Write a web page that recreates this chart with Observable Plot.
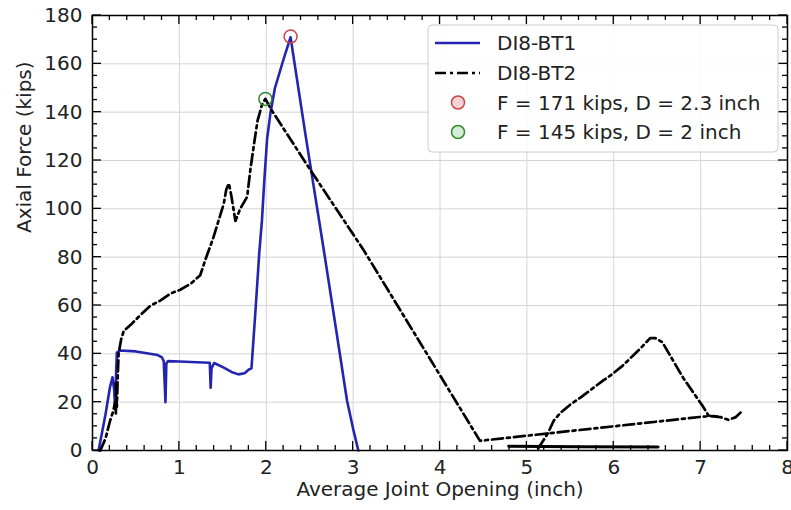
<!DOCTYPE html>
<html><head><meta charset="utf-8">
<script src="https://cdn.jsdelivr.net/npm/d3@7"></script>
<script src="https://cdn.jsdelivr.net/npm/@observablehq/plot@0.6"></script>
<style>
body{margin:0;background:#fff;}
#chart{position:relative;width:791px;height:510px;}
</style>
</head><body><div id="chart"></div>
<script>
// ---- data ----
const seriesNames = ["DI8-BT1", "DI8-BT2"];
const bt1X = [0.07,0.15,0.2,0.23,0.25,0.26,0.27,0.28,0.32,0.5,0.75,0.8,0.82,0.84,0.85,0.87,1.0,1.2,1.35,1.36,1.37,1.4,1.5,1.6,1.68,1.75,1.8,1.83,1.88,1.92,1.95,1.98,2.01,2.05,2.1,2.2,2.28,2.45,2.66,2.8,2.93,3.0,3.06];
const bt1Y = [0,15,26,30.3,25,17.4,30,40.5,41.4,41,39.5,38.5,37,20,36,37,36.8,36.5,36.3,26,34,36.2,34.5,32.5,31.5,32,33.5,34,60,82,95,113,129,140,150,162,171,131,83.5,51,20.6,9,0];
const bt2X = [0.09,0.15,0.2,0.24,0.26,0.27,0.27,0.28,0.29,0.3,0.33,0.36,0.44,0.55,0.67,0.78,0.9,1.01,1.13,1.24,1.3,1.39,1.45,1.51,1.54,1.57,1.6,1.645,1.7,1.78,1.82,1.86,1.9,1.95,1.99,2.05,2.5,3.12,4.46,7.1,7.23,7.32,7.4,7.46, null,
              5.13,5.24,5.31,5.39,5.5,5.62,5.88,5.96,6.1,6.3,6.42,6.48,6.56,6.8,7.02,7.09,7.2];
const bt2Y = [0,5,12,16.5,20,15,28,18,30,40,46,49.5,52,56,60,62,65,66.5,69,72.5,79,88,95,102,108,110.5,105,95,100,105,117,127,136.5,143,145.5,141.5,116.5,83,4,14.3,13.8,12.7,13.7,15.7, null,
              0.8,7,12.4,15.7,19,22,29,31,35,42,46.5,46.5,44.8,30,18.6,14.5,14];
const bt2ResidualX = [4.79, 5.6, 6.51];
const bt2ResidualY = [1.8, 1.6, 1.5];
const peakLabels = ["F = 171 kips, D = 2.3 inch", "F = 145 kips, D = 2 inch"];
const peakX = [2.28, 1.99];
const peakY = [171.3, 145.5];
const xTicks = [0,1,2,3,4,5,6,7,8];
const yTicks = [0,20,40,60,80,100,120,140,160,180];

// ---- build tables ----
const bt1 = bt1X.map((x,i)=>({x, y: bt1Y[i]}));
const bt2 = bt2X.map((x,i)=>({x, y: bt2Y[i]}));
const bt2Res = bt2ResidualX.map((x,i)=>({x, y: bt2ResidualY[i]}));
const peaks = peakX.map((x,i)=>({x, y: peakY[i], label: peakLabels[i]}));

const W=791, H=510, mL=92, mR=4, mT=15, mB=60;
const xDom=[0,8], yDom=[0,180];
const majLen=9, minLen=5;
const xMinor = d3.range(0, 8.0001, 0.2).filter(v => Math.abs(v - Math.round(v)) > 1e-6);
const yMinor = d3.range(0, 180.001, 5).filter(v => v % 20 !== 0);

const blue = "#2424b0";
const red = "#cc4444";
const green = "#2e8b2e";
const font = "DejaVu Sans, sans-serif";
const fs = 20;
const dash = "11,4,3,4";

const svg = Plot.plot({
  width: W, height: H,
  marginLeft: mL, marginRight: mR, marginTop: mT, marginBottom: mB,
  style: {fontSize: fs + "px", fontFamily: font, color: "#222", background: "white"},
  x: {domain: xDom},
  y: {domain: yDom},
  marks: [
    Plot.gridX(xTicks, {stroke: "#d4d4d4", strokeOpacity: 1, strokeWidth: 1}),
    Plot.gridY(yTicks, {stroke: "#d4d4d4", strokeOpacity: 1, strokeWidth: 1}),
    Plot.axisX({ticks: xTicks, tickSize: 0, tickPadding: 9, tickFormat: d=>String(d), label: null, fontSize: fs}),
    Plot.axisY({ticks: yTicks, tickSize: 0, tickPadding: 10, tickFormat: d=>String(d), label: null, fontSize: fs}),
    Plot.line(bt1, {x: "x", y: "y", stroke: blue, strokeWidth: 2.6, strokeLinejoin: "round"}),
    Plot.line(bt2, {x: "x", y: "y", stroke: "black", strokeWidth: 2.7, strokeDasharray: dash}),
    Plot.line(bt2Res, {x: "x", y: "y", stroke: "black", strokeWidth: 3}),
    Plot.dot(peaks, {x: "x", y: "y", r: 6.5, stroke: (d,i)=> i===0 ? red : green, strokeWidth: 1.5, fill: "none"}),
    Plot.frame({stroke: "black", strokeWidth: 1.5}),
    Plot.text(["Average Joint Opening (inch)"], {frameAnchor: "bottom", dy: 45, fontSize: fs, fill: "#222"}),
    Plot.text(["Axial Force (kips)"], {frameAnchor: "left", rotate: -90, dx: -68, fontSize: fs, fill: "#222"})
  ]
});
document.getElementById("chart").appendChild(svg);

// ---- inward ticks on all four sides, placed with the plot's own scales ----
const sx = svg.scale("x"), sy = svg.scale("y");
const s = d3.select(svg);
const tg = s.append("g").attr("stroke", "black").attr("stroke-width", 1.3);
const x0 = sx.apply(xDom[0]), x1 = sx.apply(xDom[1]);
const y0 = sy.apply(yDom[0]), y1 = sy.apply(yDom[1]);
for (const [vals, len] of [[xTicks, majLen], [xMinor, minLen]]) {
  for (const v of vals) {
    const px = sx.apply(v);
    tg.append("line").attr("x1", px).attr("x2", px).attr("y1", y0).attr("y2", y0 - len);
    tg.append("line").attr("x1", px).attr("x2", px).attr("y1", y1).attr("y2", y1 + len);
  }
}
for (const [vals, len] of [[yTicks, majLen], [yMinor, minLen]]) {
  for (const v of vals) {
    const py = sy.apply(v);
    tg.append("line").attr("y1", py).attr("y2", py).attr("x1", x0).attr("x2", x0 + len);
    tg.append("line").attr("y1", py).attr("y2", py).attr("x1", x1).attr("x2", x1 - len);
  }
}

// ---- legend inside the plot (upper right) ----
const lg = s.append("g").attr("font-family", font).attr("font-size", fs).attr("fill", "#222").attr("text-anchor", "start");
lg.append("rect").attr("x", 428).attr("y", 25).attr("width", 350).attr("height", 127).attr("rx", 4)
  .attr("fill", "white").attr("fill-opacity", 0.85).attr("stroke", "#cccccc");
const rows = [43, 73, 102.5, 132];
const items = [
  {type: "line", color: blue, dash: null, label: seriesNames[0]},
  {type: "line", color: "black", dash: dash, label: seriesNames[1]},
  {type: "dot", color: red, fill: "#f2d4d4", label: peakLabels[0]},
  {type: "dot", color: green, fill: "#d6ecd6", label: peakLabels[1]}
];
items.forEach((it, i) => {
  const y = rows[i];
  if (it.type === "line") {
    const l = lg.append("line").attr("x1", 435).attr("x2", 480).attr("y1", y).attr("y2", y)
      .attr("stroke", it.color).attr("stroke-width", 2.6);
    if (it.dash) l.attr("stroke-dasharray", it.dash);
  } else {
    lg.append("circle").attr("cx", 458).attr("cy", y).attr("r", 6.5)
      .attr("fill", it.fill).attr("stroke", it.color).attr("stroke-width", 1.5);
  }
  lg.append("text").attr("x", 497).attr("y", y).attr("dy", "0.35em").attr("text-anchor", "start").text(it.label);
});
</script>
</body></html>
